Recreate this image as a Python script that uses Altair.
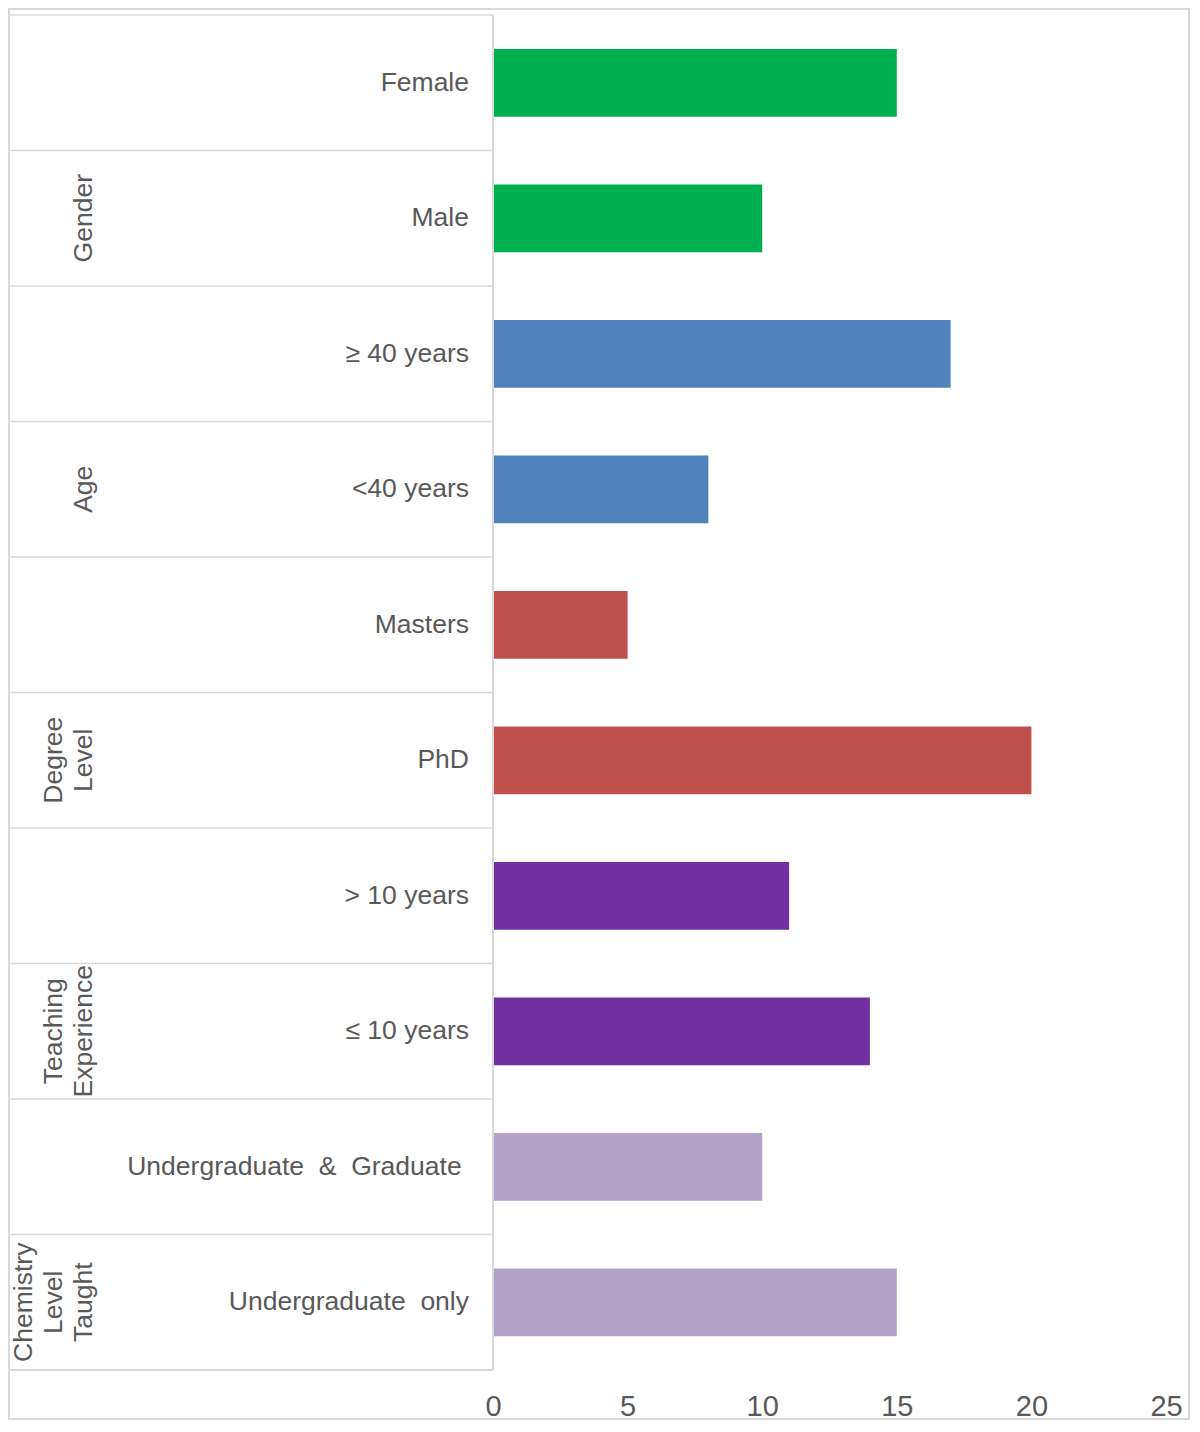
import altair as alt
import pandas as pd

# ---- data ----
categories = ["Female", "Male", "≥ 40 years", "<40 years", "Masters", "PhD",
              "> 10 years", "≤ 10 years",
              "Undergraduate\u00a0 &\u00a0 Graduate\u00a0\u200b", "Undergraduate\u00a0 only"]
values = [15, 10, 17, 8, 5, 20, 11, 14, 10, 15]
groups = ["Gender", "Gender", "Age", "Age", "Degree Level", "Degree Level",
          "Teaching Experience", "Teaching Experience",
          "Chemistry Level Taught", "Chemistry Level Taught"]
group_names = ["Gender", "Age", "Degree Level", "Teaching Experience", "Chemistry Level Taught"]
group_labels = ["Gender", "Age", "Degree\nLevel", "Teaching\nExperience", "Chemistry\nLevel\nTaught"]
group_anchor = ["Male", "<40 years", "PhD", "≤ 10 years", "Undergraduate\u00a0 only"]
group_colors = ["#00B050", "#4F81BD", "#C0504D", "#7030A0", "#B3A2C7"]
x_ticks = [0, 5, 10, 15, 20, 25]

df = pd.DataFrame({"cat": categories, "value": values, "group": groups})

# group label lines, indexed from the last line (k=0) backwards
rows = []
for anchor, label in zip(group_anchor, group_labels):
    parts = label.split("\n")
    n = len(parts)
    for i, p in enumerate(parts):
        rows.append({"cat": anchor, "line": p, "k": n - 1 - i})
gdf = pd.DataFrame(rows)

W, H = 673, 1355
TOTAL_W, TOTAL_H = 1182, 1412
PAD_L, PAD_T = 485, 7
FONT = "Liberation Sans, Arial, sans-serif"
TXT = "#595959"
LINE = "#D9D9D9"
LINE_STEP = 30

yscale = alt.Scale(domain=categories, paddingInner=0, paddingOuter=0)

bars = alt.Chart(df).mark_bar(height={"band": 0.5}).encode(
    x=alt.X("value:Q",
            scale=alt.Scale(domain=[0, 25], nice=False),
            axis=alt.Axis(values=x_ticks, domain=False, ticks=False, grid=False,
                          labelFontSize=29, labelColor=TXT, labelFont=FONT,
                          labelPadding=22, labelFlush=False, title=None)),
    y=alt.Y("cat:N", scale=yscale, sort=categories, axis=None),
    color=alt.Color("group:N", scale=alt.Scale(domain=group_names, range=group_colors), legend=None),
)

row_rules = alt.Chart(df).mark_rule(color=LINE, strokeWidth=1.4).encode(
    y=alt.Y("cat:N", scale=yscale, sort=categories, bandPosition=0, axis=None),
    x=alt.value(-484), x2=alt.value(0),
)
bottom_rule = alt.Chart(df).mark_rule(color=LINE, strokeWidth=1.4).encode(
    y=alt.value(H), x=alt.value(-484), x2=alt.value(0),
)
left_rule = alt.Chart(df).mark_rule(color=LINE, strokeWidth=1.4).encode(
    x=alt.value(-484), y=alt.value(0), y2=alt.value(H),
)
axis_rule = alt.Chart(df).mark_rule(color=LINE, strokeWidth=1.6).encode(
    x=alt.value(0), y=alt.value(0), y2=alt.value(H),
)
border = alt.Chart(df).mark_rect(fillOpacity=0, stroke=LINE, strokeWidth=2).encode(
    x=alt.value(-PAD_L + 1), x2=alt.value(TOTAL_W - PAD_L - 1),
    y=alt.value(-PAD_T + 1), y2=alt.value(TOTAL_H - PAD_T - 1),
)

row_text = alt.Chart(df).mark_text(align="right", baseline="middle", fontSize=26.5,
                                   font=FONT, color=TXT).encode(
    y=alt.Y("cat:N", scale=yscale, sort=categories, axis=None),
    x=alt.value(-24),
    text="cat:N",
)

group_layers = []
for k in range(3):
    group_layers.append(
        alt.Chart(gdf).transform_filter(alt.datum.k == k).mark_text(
            align="center", baseline="bottom", angle=270, fontSize=26.5,
            font=FONT, color=TXT).encode(
            y=alt.Y("cat:N", scale=yscale, sort=categories, axis=None),
            x=alt.value(-395 - LINE_STEP * k),
            text="line:N",
        )
    )

chart = alt.layer(border, row_rules, bottom_rule, left_rule, bars, axis_rule, row_text,
                  *group_layers).properties(
    width=W, height=H,
    autosize=alt.AutoSizeParams(type="none"),
    padding={"left": PAD_L, "top": PAD_T, "right": TOTAL_W - PAD_L - W, "bottom": TOTAL_H - PAD_T - H},
    background="white",
).configure_view(stroke=None)

chart.save("out.html", embed_options={"renderer": "svg", "actions": False})
